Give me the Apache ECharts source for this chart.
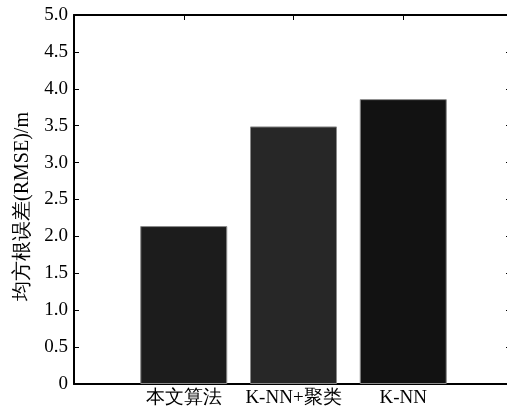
<!DOCTYPE html>
<html>
<head>
<meta charset="utf-8">
<script src="https://cdn.jsdelivr.net/npm/echarts@6/dist/echarts.min.js"></script>
<style>
html,body{margin:0;padding:0;background:#fff;}
#c{width:507px;height:412px;}
</style>
</head>
<body>
<div id="c"></div>
<script>
var categories = ['本文算法', 'K-NN+聚类', 'K-NN'];
var positions = [1, 2, 3];
var rmse = [2.14, 3.49, 3.86];
var yTicks = ['0', '0.5', '1.0', '1.5', '2.0', '2.5', '3.0', '3.5', '4.0', '4.5', '5.0'];

var barColors = ['#1c1c1c', '#272727', '#121212'];
var font = '"Liberation Serif", "Times New Roman", serif';

var chart = echarts.init(document.getElementById('c'), null, {renderer: 'canvas'});
var lineStyle = {color: '#000', width: 2};
var data = positions.map(function (p, i) {
  return {value: [p, rmse[i]], itemStyle: {color: barColors[i], borderColor: '#8a8a8a', borderWidth: 1}};
});
var option = {
  animation: false,
  backgroundColor: '#fff',
  grid: {left: 74, width: 439, top: 15, bottom: 28, containLabel: false, outerBoundsMode: 'none'},
  xAxis: [{
    type: 'value', min: 0, max: 4, interval: 1, position: 'bottom',
    axisLine: {show: true, onZero: false, lineStyle: lineStyle},
    axisTick: {show: true, inside: true, length: 5, lineStyle: {color: '#000', width: 1}},
    splitLine: {show: false},
    axisLabel: {
      margin: 5, fontFamily: font, fontSize: 19, color: '#000',
      formatter: function (v) { var i = positions.indexOf(v); return i >= 0 ? categories[i] : ''; }
    }
  }, {
    type: 'value', min: 0, max: 4, interval: 1, position: 'top',
    axisLine: {show: true, onZero: false, lineStyle: lineStyle},
    axisTick: {show: true, inside: true, length: 5, lineStyle: {color: '#000', width: 1}},
    splitLine: {show: false},
    axisLabel: {show: false}
  }],
  yAxis: [{
    type: 'value', min: 0, max: 5, interval: 0.5, position: 'left',
    name: '均方根误差(RMSE)/m', nameLocation: 'middle', nameGap: 41,
    nameTextStyle: {fontFamily: font, fontSize: 20, color: '#000', padding: [0, 14, 0, 0]},
    axisLine: {show: true, onZero: false, lineStyle: lineStyle},
    axisTick: {show: true, inside: true, length: 5, lineStyle: {color: '#000', width: 1}},
    splitLine: {show: false},
    axisLabel: {
      margin: 6, fontFamily: font, fontSize: 19, color: '#000',
      formatter: function (v) { return yTicks[Math.round(v / 0.5)]; }
    }
  }, {
    type: 'value', min: 0, max: 5, interval: 0.5, position: 'right',
    axisLine: {show: true, onZero: false, lineStyle: lineStyle},
    axisTick: {show: true, inside: true, length: 7, lineStyle: {color: '#000', width: 1}},
    splitLine: {show: false},
    axisLabel: {show: false}
  }],
  series: [{
    type: 'bar', xAxisIndex: 0, yAxisIndex: 0,
    barWidth: 87,
    data: data
  }]
};
chart.setOption(option);
</script>
</body>
</html>
